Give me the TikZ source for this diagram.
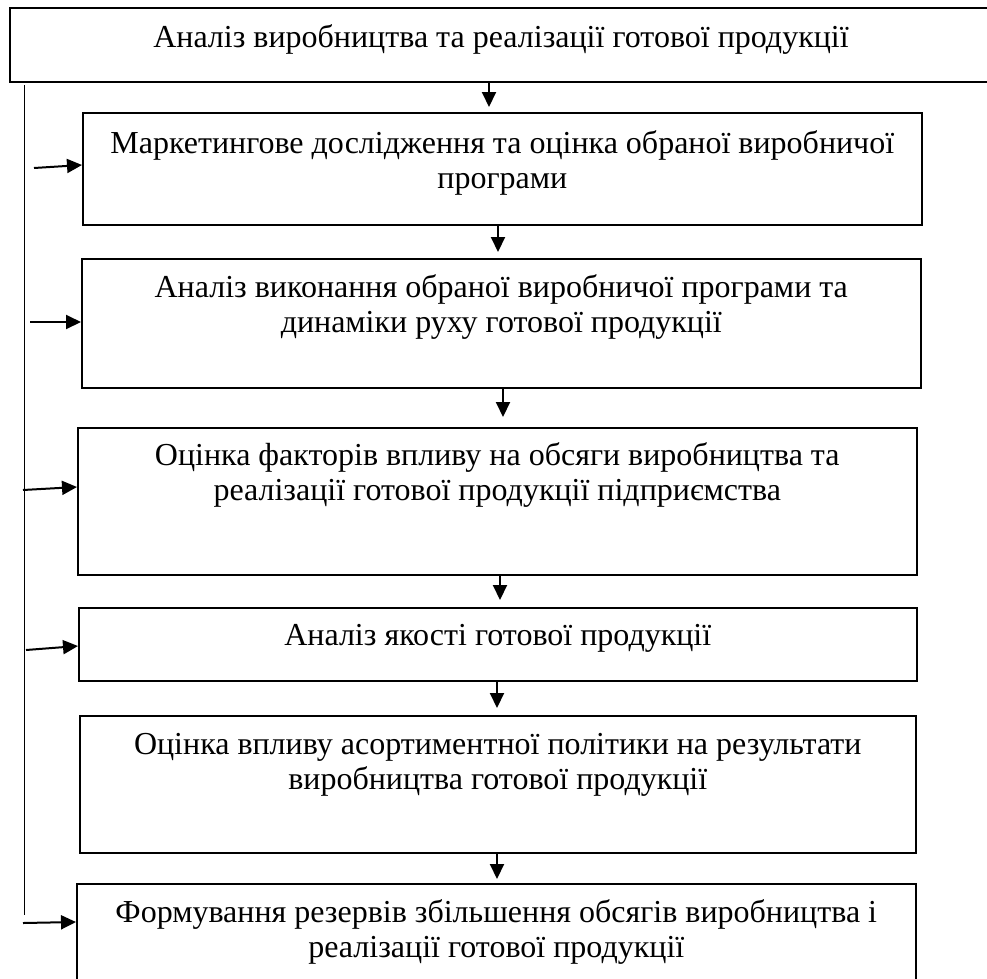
\documentclass[tikz,border=0pt]{standalone}
\usepackage{fontspec}
\setmainfont{Liberation Serif}
\usetikzlibrary{arrows.meta,calc}
\begin{document}
\begin{tikzpicture}[x=1pt,y=-1pt,
  box/.style={draw, line width=1.6pt, inner sep=0pt, anchor=north west},
  txt/.style={inner sep=0pt, align=center, anchor=base, font=\fontsize{32}{35}\selectfont},
  arr/.style={line width=2pt, -{Triangle[length=15pt,width=14pt]}},
  link/.style={line width=1.6pt}]
\useasboundingbox (0,0) rectangle (987,978);
% boxes
\node[box, minimum width=990pt, minimum height=74pt]  (b1) at (9,7)   {};
\node[box, minimum width=839pt, minimum height=112pt] (b2) at (82,112) {};
\node[box, minimum width=839pt, minimum height=129pt] (b3) at (81,258) {};
\node[box, minimum width=839pt, minimum height=147pt] (b4) at (77,427) {};
\node[box, minimum width=838pt, minimum height=73pt]  (b5) at (78,607) {};
\node[box, minimum width=836pt, minimum height=137pt] (b6) at (79,715) {};
\node[box, minimum width=839pt, minimum height=120pt] (b7) at (76,883) {};
% texts (anchor base = baseline of the last line)
\node[txt] (t1) at (501,47) {Аналіз виробництва та реалізації готової продукції};
\node[txt] (t2) at ($(b2.north)+(0,76)$) {Маркетингове дослідження та оцінка обраної виробничої\\програми};
\node[txt] (t3) at ($(b3.north)+(0,74)$) {Аналіз виконання обраної виробничої програми та\\динаміки руху готової продукції};
\node[txt] (t4) at ($(b4.north)+(0,73)$) {Оцінка факторів впливу на обсяги виробництва та\\реалізації готової продукції підприємства};
\node[txt] (t5) at ($(b5.north)+(0,38)$) {Аналіз якості готової продукції};
\node[txt] (t6) at ($(b6.north)+(0,74)$) {Оцінка впливу асортиментної політики на результати\\виробництва готової продукції};
\node[txt] (t7) at ($(b7.north)+(0,74)$) {Формування резервів збільшення обсягів виробництва і\\реалізації готової продукції};
% down arrows
\coordinate (d1) at (489,0);
\coordinate (d2) at (498,0);
\coordinate (d3) at (503,0);
\coordinate (d4) at (500,0);
\coordinate (d5) at (497,0);
\coordinate (d6) at (497,0);
\draw[arr, shorten >=5pt] (b1.south -| d1) -- (b2.north -| d1);
\draw[arr, shorten >=6pt] (b2.south -| d2) -- (b3.north -| d2);
\draw[arr, shorten >=10pt] (b3.south -| d3) -- (b4.north -| d3);
\draw[arr, shorten >=7pt] (b4.south -| d4) -- (b5.north -| d4);
\draw[arr, shorten >=7pt] (b5.south -| d5) -- (b6.north -| d5);
\draw[arr, shorten >=4pt] (b6.south -| d6) -- (b7.north -| d6);
% trunk
\coordinate (trunkTop) at (24.5,85);
\coordinate (trunkBot) at (24.5,915);
\draw[link] (trunkTop) -- (trunkBot);
% side arrows
\coordinate (s2) at (34,168);  \coordinate (e2) at (0,165);
\coordinate (s3) at (30,322);  \coordinate (e3) at (0,322);
\coordinate (s4) at (23,490);  \coordinate (e4) at (0,487);
\coordinate (s5) at (26,650);  \coordinate (e5) at (0,646);
\coordinate (s7) at (23,923);  \coordinate (e7) at (0,922);
\draw[arr] (s2) -- (b2.west |- e2);
\draw[arr] (s3) -- (b3.west |- e3);
\draw[arr] (s4) -- (b4.west |- e4);
\draw[arr] (s5) -- (b5.west |- e5);
\draw[arr] (s7) -- (b7.west |- e7);
\end{tikzpicture}
\end{document}
